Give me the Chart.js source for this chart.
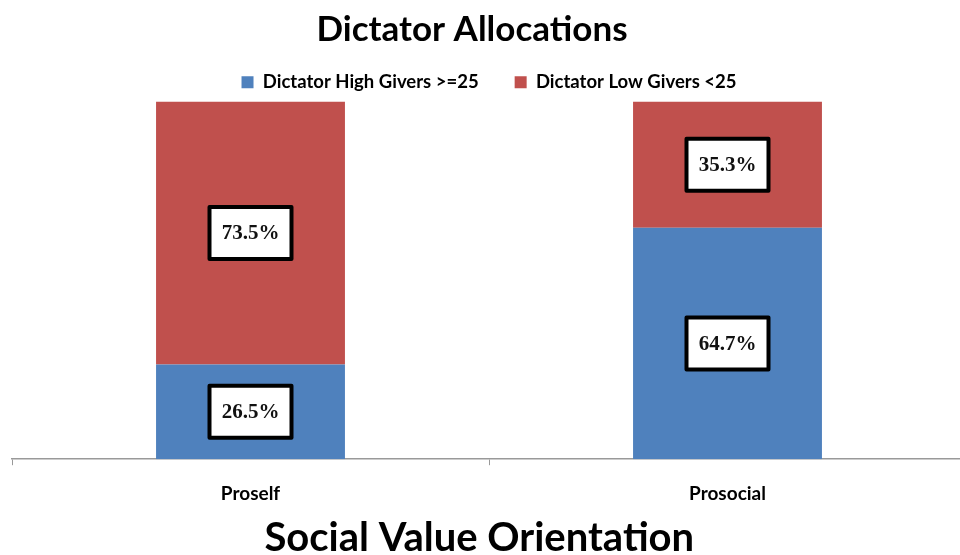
<!DOCTYPE html>
<html lang="en">
<head>
    <meta charset="UTF-8">
    <title>Dictator Allocations</title>
    <style>
        body {
            margin: 0;
            padding: 0;
            background-color: #fff;
            overflow: hidden;
        }
        .chart-container {
            width: 968px;
            height: 555px;
        }
    </style>
    <script src="https://cdn.jsdelivr.net/npm/chart.js"></script>
</head>
<body>
    <div class="chart-container">
        <canvas id="dictatorChart"></canvas>
    </div>

    <script>
        // Data
        const categories = ['Proself', 'Prosocial'];
        const highGivers = [26.5, 64.7];   // Dictator High Givers >=25 (%)
        const lowGivers = [73.5, 35.3];    // Dictator Low Givers <25 (%)

        // Boxed percentage labels in the middle of each segment
        const boxLabels = {
            id: 'boxLabels',
            afterDatasetsDraw(chart) {
                const ctx = chart.ctx;
                ctx.save();
                chart.data.datasets.forEach((ds, i) => {
                    const meta = chart.getDatasetMeta(i);
                    meta.data.forEach((bar, j) => {
                        const cx = bar.x;
                        const cy = (bar.y + bar.base) / 2;
                        const w = 82, h = 52;
                        ctx.fillStyle = '#fff';
                        ctx.fillRect(cx - w / 2, cy - h / 2, w, h);
                        ctx.lineWidth = 4;
                        ctx.strokeStyle = '#000';
                        ctx.lineJoin = 'round';
                        ctx.strokeRect(cx - w / 2, cy - h / 2, w, h);
                        ctx.fillStyle = '#111';
                        ctx.font = 'bold 21px "Liberation Serif"';
                        ctx.textAlign = 'center';
                        ctx.textBaseline = 'middle';
                        ctx.fillText(ds.data[j].toFixed(1) + '%', cx, cy + 1);
                    });
                });
                ctx.restore();
            }
        };

        const ctx = document.getElementById('dictatorChart').getContext('2d');
        new Chart(ctx, {
            type: 'bar',
            data: {
                labels: categories,
                datasets: [
                    {
                        label: 'Dictator High Givers >=25',
                        data: highGivers,
                        backgroundColor: '#4F81BD'
                    },
                    {
                        label: 'Dictator Low Givers <25',
                        data: lowGivers,
                        backgroundColor: '#C0504D'
                    }
                ]
            },
            options: {
                responsive: true,
                maintainAspectRatio: false,
                animation: false,
                categoryPercentage: 1,
                barPercentage: 0.396,
                layout: {
                    padding: { left: 12, right: 2, top: 9, bottom: -3 }
                },
                plugins: {
                    title: {
                        display: true,
                        // trailing spaces nudge the centred title a little to the left
                        text: 'Dictator Allocations    ',
                        color: '#000',
                        font: { family: 'Lato', size: 35, weight: 'bold' },
                        padding: { top: 0, bottom: -14 }
                    },
                    legend: {
                        display: true,
                        position: 'top',
                        labels: {
                            color: '#000',
                            font: { family: 'Lato', size: 18.5, weight: 'bold' },
                            boxWidth: 12,
                            boxHeight: 12,
                            padding: 36
                        }
                    },
                    tooltip: { enabled: false }
                },
                scales: {
                    x: {
                        stacked: true,
                        grid: {
                            drawOnChartArea: false,
                            drawTicks: true,
                            tickLength: 6,
                            color: '#999'
                        },
                        border: { display: true, color: '#999', width: 1.5 },
                        ticks: {
                            color: '#000',
                            font: { family: 'Lato', size: 19, weight: 'bold' },
                            padding: 17
                        },
                        title: {
                            display: true,
                            text: 'Social Value Orientation  ',
                            color: '#000',
                            font: { family: 'Lato', size: 40, weight: 'bold', lineHeight: 1 },
                            padding: { top: -4, bottom: 0 }
                        }
                    },
                    y: {
                        stacked: true,
                        display: false,
                        min: 0,
                        max: 100
                    }
                }
            },
            plugins: [boxLabels]
        });
    </script>
</body>
</html>
